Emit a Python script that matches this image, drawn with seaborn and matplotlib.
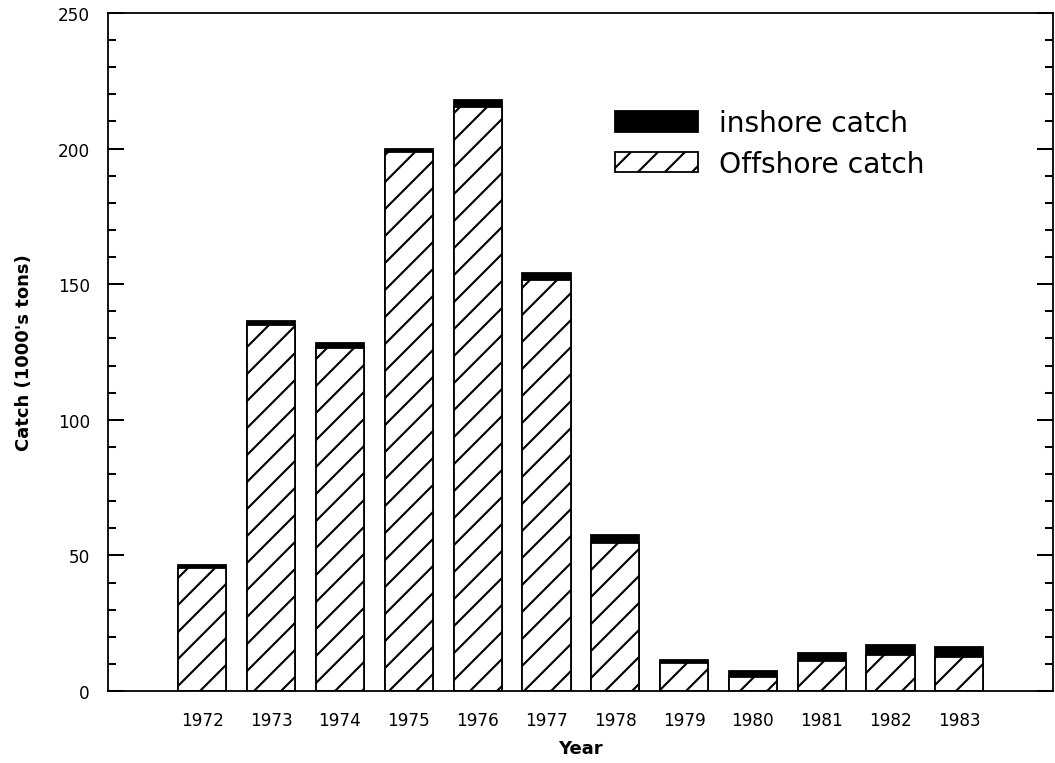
import matplotlib
matplotlib.use("Agg")
import matplotlib.pyplot as plt
from matplotlib.patches import Patch
from matplotlib.ticker import MultipleLocator
import numpy as np
import pandas as pd
import seaborn as sns

# Annual catch, thousands of tons
years = ["1972", "1973", "1974", "1975", "1976", "1977",
         "1978", "1979", "1980", "1981", "1982", "1983"]
year_labels = ["1972", "1973", "1974", "1975", "1976", "1977",
               "1978", "1979", "1980", "1981", "1982", "1983"]
offshore = [45.3, 135.0, 126.5, 198.8, 215.5, 151.6, 54.6, 10.3, 5.3, 11.2, 13.3, 12.5]
inshore = [1.3, 1.5, 1.8, 1.2, 2.6, 2.6, 3.0, 1.2, 2.1, 2.7, 3.8, 3.6]
y_ticks = [0, 50, 100, 150, 200, 250]
legend_labels = ["inshore catch", "Offshore catch"]

df = pd.DataFrame({"year": years, "offshore": offshore, "inshore": inshore})
df["total"] = df["offshore"] + df["inshore"]

sns.set_style("ticks")
plt.rcParams["font.family"] = ["DejaVu Sans"]
plt.rcParams["hatch.linewidth"] = 0.95
plt.rcParams["hatch.color"] = "black"
plt.rcParams["text.color"] = "black"
plt.rcParams["axes.labelcolor"] = "black"
plt.rcParams["xtick.color"] = "black"
plt.rcParams["ytick.color"] = "black"

DPI = 162
fig = plt.figure(figsize=(1055 / DPI, 764 / DPI), dpi=DPI)
ax = fig.add_axes([108 / 1055, 72 / 764, (1053 - 108) / 1055, (692 - 14) / 764])

# Full stack in black; the hatched offshore part is drawn over it
sns.barplot(data=df, x="year", y="total", color="black", saturation=1,
            edgecolor="black", linewidth=0.8, width=0.70, ax=ax)
sns.barplot(data=df, x="year", y="offshore", color="white", saturation=1,
            edgecolor="black", linewidth=0.8, width=0.70, hatch="//", ax=ax)

ax.set_xlim(-1.37, 12.36)
ax.set_ylim(0, 250)
ax.set_xticks(range(len(year_labels)))
ax.set_xticklabels(year_labels)
ax.set_yticks(y_ticks)
ax.set_yticklabels([str(t) for t in y_ticks])
ax.yaxis.set_minor_locator(MultipleLocator(10))

ax.tick_params(axis="x", length=0, pad=9, labelsize=7.5, labelcolor="black")
ax.tick_params(axis="y", which="major", direction="in", length=7, width=0.9,
               left=True, right=True, labelleft=True, labelright=False,
               pad=8, labelsize=7.5, labelcolor="black")
ax.tick_params(axis="y", which="minor", direction="in", length=3.6, width=0.9,
               left=True, right=True)

for side in ["left", "right", "top", "bottom"]:
    ax.spines[side].set_visible(True)
    ax.spines[side].set_linewidth(0.8)
    ax.spines[side].set_color("black")

ax.set_xlabel("Year", fontsize=8, fontweight="bold", labelpad=4.5, color="black")
ax.set_ylabel("Catch (1000's tons)", fontsize=8, fontweight="bold", labelpad=11,
              color="black")

handles = [
    Patch(facecolor="black", edgecolor="black", linewidth=0.8),
    Patch(facecolor="white", edgecolor="black", linewidth=0.8, hatch="//"),
]
leg = ax.legend(handles, legend_labels, loc="upper left",
                bbox_to_anchor=(0.5365, 0.858), frameon=False,
                prop={"size": 12.5},
                handlelength=2.95, handleheight=0.75, handletextpad=0.75,
                labelspacing=0.45, borderpad=0, borderaxespad=0)
for t in leg.get_texts():
    t.set_color("black")

fig.savefig("out.png", dpi=DPI, facecolor="white")
